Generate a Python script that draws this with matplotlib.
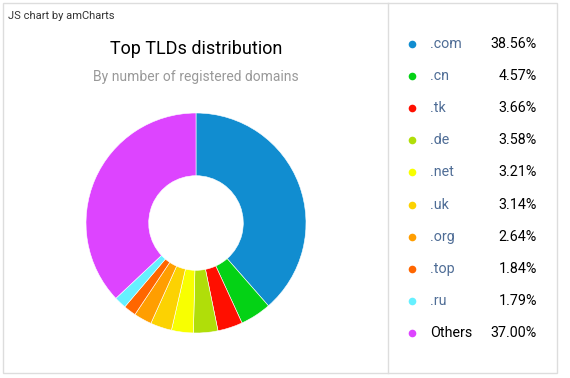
import matplotlib
matplotlib.use("Agg")
import matplotlib.pyplot as plt
from matplotlib.patches import Rectangle
from matplotlib.lines import Line2D

plt.rcParams["font.family"] = ["Roboto", "DejaVu Sans"]

tlds = [".com", ".cn", ".tk", ".de", ".net", ".uk", ".org", ".top", ".ru", "Others"]
shares = [38.56, 4.57, 3.66, 3.58, 3.21, 3.14, 2.64, 1.84, 1.79, 37.00]
colors = ["#118DD0", "#04D215", "#FF0F00", "#B0DE09", "#F8FF01",
          "#FCD202", "#FF9E01", "#FF6600", "#66F0FF", "#DD44FF"]

W, H = 570, 378
fig = plt.figure(figsize=(W / 100, H / 100), dpi=100)


def fx(px):
    return px / W


def fy(py):
    return 1 - py / H


# outer frame and divider
fig.patches.append(Rectangle((fx(3), fy(373)), fx(554), 370 / H, transform=fig.transFigure,
                             fill=False, edgecolor="#dddddd", linewidth=1))
fig.add_artist(Line2D([fx(388), fx(388)], [fy(3), fy(373)], color="#dddddd", linewidth=1))

fig.text(fx(8), fy(16), "JS chart by amCharts", fontsize=8, color="#333333", va="center")
fig.text(fx(196), fy(49), "Top TLDs distribution", fontsize=13, color="#000000",
         ha="center", va="center")
fig.text(fx(196), fy(77), "By number of registered domains", fontsize=10, color="#999999",
         ha="center", va="center")

# donut
cx, cy, r = 196, 223, 110
ax = fig.add_axes([fx(cx - r), fy(cy + r), 2 * r / W, 2 * r / H])
ax.pie(shares, colors=colors, startangle=90, counterclock=False, radius=1,
       wedgeprops=dict(width=0.57, edgecolor="#ffffff", linewidth=0.4))
ax.set_xlim(-1, 1)
ax.set_ylim(-1, 1)
ax.set_aspect("equal")
ax.axis("off")

# legend
for i, (name, val, col) in enumerate(zip(tlds, shares, colors)):
    y = fy(44 + i * 32.1)
    fig.add_artist(Line2D([fx(412)], [y], marker="o", markersize=5.5, color=col,
                          markeredgewidth=0, linestyle="none"))
    fig.text(fx(430), y, name, fontsize=10.3, va="center",
             color="#000000" if name == "Others" else "#4f6d96")
    fig.text(fx(537), y, f"{val:.2f}%", fontsize=10.3, va="center", ha="right", color="#000000")

fig.savefig("out.png", dpi=100)
